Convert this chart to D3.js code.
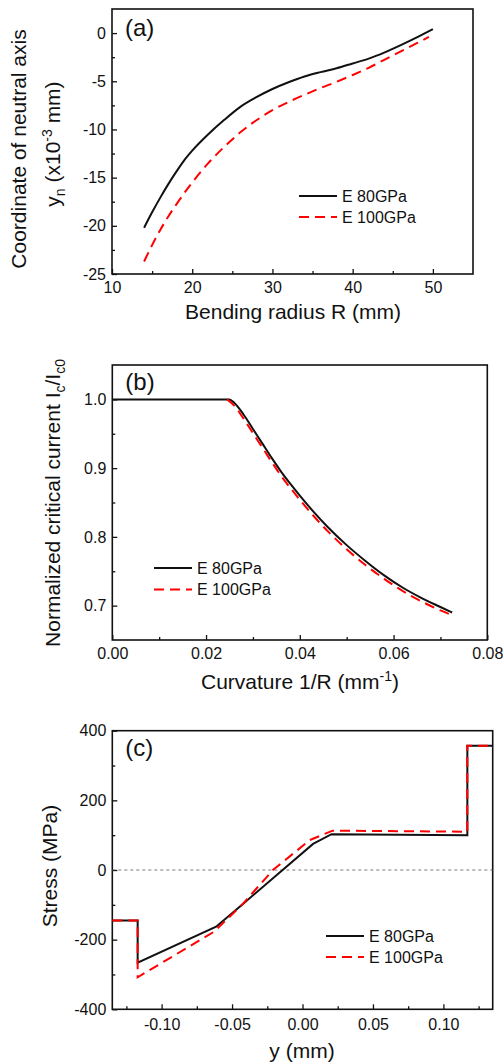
<!DOCTYPE html>
<html>
<head>
<meta charset="utf-8">
<script src="https://cdn.jsdelivr.net/npm/d3@7"></script>
<style>
  body { margin: 0; background: #fff; }
</style>
</head>
<body>
<div id="chart"></div>
<script>
// (a) coordinate of neutral axis vs bending radius
const radiusE80 = [14, 15, 16, 17, 18, 19, 20, 22, 24, 26, 28, 30, 32, 34, 36, 38, 40, 42, 44, 46, 48, 50];
const neutralE80 = [-20.2, -18.6, -17.1, -15.7, -14.4, -13.2, -12.2, -10.5, -9.0, -7.65, -6.65, -5.8, -5.1, -4.5, -4.05, -3.65, -3.15, -2.65, -2.0, -1.25, -0.45, 0.4];
const radiusE100 = [14, 15, 16, 17, 18, 20, 22, 24, 26, 28, 30, 32, 34, 36, 38, 40, 42, 44, 46, 48, 49.5];
const neutralE100 = [-23.7, -22.0, -20.45, -19.05, -17.8, -15.5, -13.5, -11.8, -10.3, -9.05, -8.0, -7.15, -6.4, -5.7, -5.05, -4.35, -3.6, -2.75, -1.9, -1.05, -0.4];

// (b) normalized critical current vs curvature
const curvE80 = [0, 0.025, 0.026, 0.028, 0.030, 0.032, 0.034, 0.036, 0.038, 0.040, 0.043, 0.046, 0.050, 0.054, 0.058, 0.062, 0.066, 0.070, 0.0725];
const icE80 = [1.0, 1.0, 0.995, 0.978, 0.957, 0.936, 0.915, 0.895, 0.877, 0.860, 0.836, 0.814, 0.788, 0.765, 0.744, 0.726, 0.711, 0.698, 0.690];
const curvE100 = [0.0245, 0.026, 0.028, 0.030, 0.032, 0.034, 0.036, 0.038, 0.040, 0.043, 0.046, 0.050, 0.054, 0.058, 0.062, 0.066, 0.070, 0.0725];
const icE100 = [1.0, 0.991, 0.972, 0.951, 0.930, 0.909, 0.889, 0.871, 0.854, 0.830, 0.808, 0.782, 0.759, 0.739, 0.721, 0.706, 0.693, 0.686];

// (c) stress across thickness
const posE80 = [-0.135, -0.117, -0.117, -0.0613, -0.045, 0.0075, 0.0206, 0.117, 0.117, 0.135];
const stressE80 = [-145, -145, -266, -163, -107, 75, 103, 100, 357, 357];
const posE100 = [-0.135, -0.117, -0.117, -0.0627, -0.042, -0.021, 0.0052, 0.0214, 0.117, 0.117, 0.135];
const stressE100 = [-145, -145, -308, -177, -96, 0, 86, 113, 110, 357, 357];

const seriesNames = ["E 80GPa", "E 100GPa"];

const FONT = "'Liberation Sans', Arial, sans-serif";
const RED = "#ff0000";
const DASH = "10,6";

const svg = d3.select("#chart").append("svg")
    .attr("width", 503)
    .attr("height", 1064);

function panel(o) {
    const g = svg.append("g");
    const x = d3.scaleLinear().domain(o.xDomain).range([o.left, o.right]);
    const y = d3.scaleLinear().domain(o.yDomain).range([o.bottom, o.top]);

    // minor ticks
    g.append("g")
        .attr("transform", `translate(0,${o.bottom})`)
        .call(d3.axisBottom(x).tickValues(o.xMinor).tickSize(-3).tickFormat(""))
        .call(s => s.select(".domain").remove());
    g.append("g")
        .attr("transform", `translate(${o.left},0)`)
        .call(d3.axisLeft(y).tickValues(o.yMinor).tickSize(-3).tickFormat(""))
        .call(s => s.select(".domain").remove());

    // major ticks
    const xa = g.append("g")
        .attr("transform", `translate(0,${o.bottom})`)
        .call(d3.axisBottom(x).tickValues(o.xTicks).tickFormat(o.xFormat).tickSize(-5).tickPadding(o.xPad));
    const ya = g.append("g")
        .attr("transform", `translate(${o.left},0)`)
        .call(d3.axisLeft(y).tickValues(o.yTicks).tickFormat(o.yFormat).tickSize(-5).tickPadding(6));
    [xa, ya].forEach(a => {
        a.select(".domain").remove();
        a.selectAll("text").attr("font-size", 16).attr("font-family", FONT).attr("fill", "#111");
    });
    g.selectAll(".tick line").attr("stroke", "#111").attr("stroke-width", 1.3);

    // frame
    g.append("rect")
        .attr("x", o.left).attr("y", o.top)
        .attr("width", o.right - o.left).attr("height", o.bottom - o.top)
        .attr("fill", "none").attr("stroke", "#111").attr("stroke-width", 1.6);

    // panel letter
    g.append("text")
        .attr("x", o.left + 13).attr("y", o.top + o.letterDy)
        .attr("font-size", 24).attr("font-family", FONT).attr("fill", "#111")
        .text(o.letter);

    return { g, x, y };
}

function drawLine(p, xs, ys, color, dashed, curve) {
    const line = d3.line()
        .x(d => p.x(d[0]))
        .y(d => p.y(d[1]))
        .curve(curve);
    p.g.append("path")
        .datum(d3.zip(xs, ys))
        .attr("d", line)
        .attr("fill", "none")
        .attr("stroke", color)
        .attr("stroke-width", 2)
        .attr("stroke-dasharray", dashed ? DASH : null);
}

function legend(p, lx, ly, gap) {
    seriesNames.forEach((name, i) => {
        const yy = ly + i * gap;
        p.g.append("line")
            .attr("x1", lx).attr("x2", lx + 38)
            .attr("y1", yy).attr("y2", yy)
            .attr("stroke", i === 0 ? "#111" : RED)
            .attr("stroke-width", 2)
            .attr("stroke-dasharray", i === 0 ? null : DASH);
        p.g.append("text")
            .attr("x", lx + 43).attr("y", yy)
            .attr("dy", "0.35em")
            .attr("font-size", 16).attr("font-family", FONT).attr("fill", "#111")
            .text(name);
    });
}

function yTitle(cx, cy) {
    return svg.append("text")
        .attr("transform", `translate(${cx},${cy}) rotate(-90)`)
        .attr("text-anchor", "middle")
        .attr("dy", "0.35em")
        .attr("font-size", 21).attr("font-family", FONT).attr("fill", "#111");
}

function xTitle(cx, by) {
    return svg.append("text")
        .attr("x", cx).attr("y", by)
        .attr("text-anchor", "middle")
        .attr("font-size", 21).attr("font-family", FONT).attr("fill", "#111");
}

// ---------- (a)
const pa = panel({
    left: 112, right: 473, top: 9, bottom: 274,
    xDomain: [10, 55], yDomain: [-25, 2.5],
    xTicks: [10, 20, 30, 40, 50], xMinor: [15, 25, 35, 45],
    yTicks: [-25, -20, -15, -10, -5, 0], yMinor: [-22.5, -17.5, -12.5, -7.5, -2.5],
    xFormat: d => String(d), yFormat: d => String(d), xPad: 8,
    letter: "(a)", letterDy: 27
});
drawLine(pa, radiusE80, neutralE80, "#111", false, d3.curveMonotoneX);
drawLine(pa, radiusE100, neutralE100, RED, true, d3.curveMonotoneX);
legend(pa, 299, 196, 21);

yTitle(19, 149).text("Coordinate of neutral axis");
const ya2 = yTitle(53, 144);
ya2.append("tspan").text("y");
ya2.append("tspan").attr("font-size", 14).attr("dy", 5).text("n");
ya2.append("tspan").attr("dy", -5).text(" (x10");
ya2.append("tspan").attr("font-size", 14).attr("dy", -8).text("-3");
ya2.append("tspan").attr("dy", 8).text(" mm)");
xTitle(293, 319).text("Bending radius R (mm)");

// ---------- (b)
const pb = panel({
    left: 112.3, right: 487.3, top: 365, bottom: 640,
    xDomain: [0, 0.08], yDomain: [0.65, 1.05],
    xTicks: [0, 0.02, 0.04, 0.06, 0.08], xMinor: [0.01, 0.03, 0.05, 0.07],
    yTicks: [0.7, 0.8, 0.9, 1.0], yMinor: [0.75, 0.85, 0.95],
    xFormat: d => d.toFixed(2), yFormat: d => d.toFixed(1), xPad: 8,
    letter: "(b)", letterDy: 25
});
drawLine(pb, curvE80, icE80, "#111", false, d3.curveMonotoneX);
drawLine(pb, curvE100, icE100, RED, true, d3.curveMonotoneX);
legend(pb, 154, 568, 21.5);

const yb = yTitle(53, 503);
yb.append("tspan").text("Normalized critical current I");
yb.append("tspan").attr("font-size", 14).attr("dy", 5).text("c");
yb.append("tspan").attr("dy", -5).text("/I");
yb.append("tspan").attr("font-size", 14).attr("dy", 5).text("c0");
const xb = xTitle(300, 689);
xb.append("tspan").text("Curvature 1/R (mm");
xb.append("tspan").attr("font-size", 14).attr("dy", -8).text("-1");
xb.append("tspan").attr("dy", 8).text(")");

// ---------- (c)
const pc = panel({
    left: 112.3, right: 492.7, top: 730.7, bottom: 1009.3,
    xDomain: [-0.135, 0.135], yDomain: [-400, 400],
    xTicks: [-0.1, -0.05, 0, 0.05, 0.1], xMinor: [-0.125, -0.075, -0.025, 0.025, 0.075, 0.125],
    yTicks: [-400, -200, 0, 200, 400], yMinor: [-300, -100, 100, 300],
    xFormat: d => d.toFixed(2), yFormat: d => String(d), xPad: 9,
    letter: "(c)", letterDy: 25
});
pc.g.append("line")
    .attr("x1", pc.x(-0.135)).attr("x2", pc.x(0.135))
    .attr("y1", pc.y(0)).attr("y2", pc.y(0))
    .attr("stroke", "#555").attr("stroke-width", 0.8)
    .attr("stroke-dasharray", "3,3");
drawLine(pc, posE80, stressE80, "#111", false, d3.curveLinear);
drawLine(pc, posE100, stressE100, RED, true, d3.curveLinear);
legend(pc, 326, 936, 21);

yTitle(50, 866).text("Stress (MPa)");
xTitle(302, 1058).text("y (mm)");
</script>
</body>
</html>
